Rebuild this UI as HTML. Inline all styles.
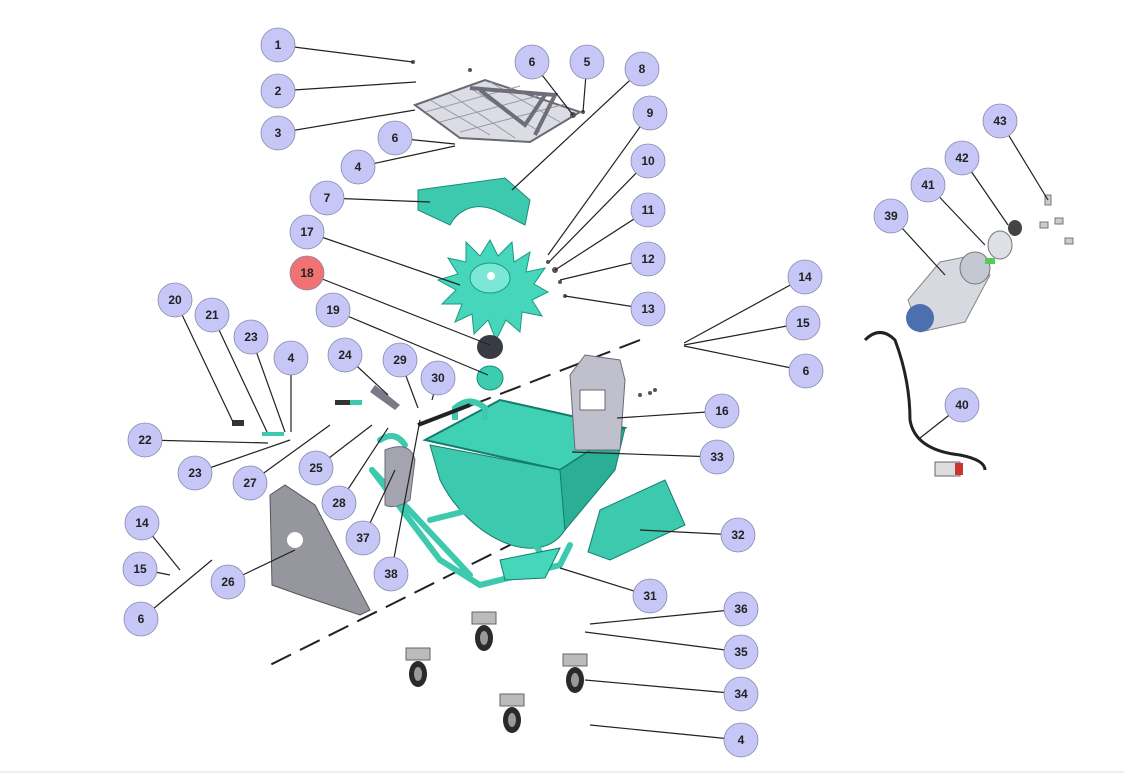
<!DOCTYPE html>
<html><head><meta charset="utf-8"><style>
html,body{margin:0;padding:0;background:#fff;}
svg{display:block}
text{font-family:"Liberation Sans",sans-serif;font-weight:bold;font-size:12px;fill:#222;text-anchor:middle;dominant-baseline:central}
</style></head><body>
<svg width="1124" height="780" viewBox="0 0 1124 780" xmlns="http://www.w3.org/2000/svg">
<rect width="1124" height="780" fill="#fff"/>
<line x1="0" y1="772" x2="1124" y2="772" stroke="#ddd" stroke-width="1"/>
<g stroke="#222" stroke-width="2" stroke-dasharray="22,10">
<line x1="640" y1="340" x2="420" y2="425"/>
<line x1="520" y1="540" x2="270" y2="665"/>
</g>
<!-- grate 3 -->
<polygon points="415,105 485,80 580,112 530,142 460,138" fill="#dcdce4" stroke="#6a6a76" stroke-width="2"/>
<g stroke="#9a9aa6" stroke-width="1">
<line x1="430" y1="100" x2="490" y2="135"/><line x1="450" y1="94" x2="515" y2="138"/><line x1="470" y1="88" x2="540" y2="132"/><line x1="490" y1="82" x2="560" y2="122"/>
<line x1="425" y1="112" x2="520" y2="86"/><line x1="440" y1="122" x2="545" y2="94"/><line x1="460" y1="132" x2="565" y2="104"/>
</g>
<path d="M470,88 L555,95 L535,135 M480,90 L525,125 L545,95" fill="none" stroke="#6e6e7a" stroke-width="4"/>
<!-- plate 7 -->
<path d="M418,190 L505,178 L530,200 L525,225 L495,210 C470,200 455,215 450,225 L418,210 Z" fill="#3cc9ae" stroke="#1a8d78"/>
<!-- gear 17 -->
<polygon fill="#45d6bc" stroke="#1a9a82" points="490,240 498,256 512,242 514,262 530,252 526,272 545,268 534,284 548,292 532,300 542,316 522,312 520,332 506,320 496,340 488,320 474,334 472,314 455,322 462,304 442,304 456,290 438,280 458,274 448,258 466,262 466,242 480,256"/>
<ellipse cx="490" cy="278" rx="20" ry="15" fill="#7ae8d4" stroke="#1a9a82"/>
<circle cx="491" cy="276" r="4" fill="#fff"/>
<ellipse cx="490" cy="347" rx="13" ry="12" fill="#3a3a44"/>
<ellipse cx="490" cy="378" rx="13" ry="12" fill="#3ccdb0" stroke="#17907a"/>
<!-- hopper 33 -->
<path d="M425,440 L500,400 L625,428 L560,470 Z" fill="#40d0b4" stroke="#157e6b" stroke-width="2"/>
<path d="M430,445 L560,470 L565,530 C540,570 470,540 440,480 Z" fill="#3cc9ae" stroke="#157e6b"/>
<path d="M560,470 L625,428 L615,470 L565,530 Z" fill="#2aae94" stroke="#157e6b"/>
<path d="M455,420 L455,408 Q470,395 485,408 L485,420" fill="none" stroke="#3cc9ae" stroke-width="6"/>
<g stroke="#3cc9ae" stroke-width="6" fill="none" stroke-linecap="round">
<path d="M372,470 L440,560 L480,585 L560,565 L570,545"/>
<path d="M372,470 L470,575"/>
<path d="M430,520 L510,500"/>
<path d="M500,490 L545,560"/>
<path d="M380,440 Q395,430 405,445"/>
</g>
<polygon points="500,560 560,548 545,578 505,580" fill="#45d6bc" stroke="#157e6b"/>
<line x1="418" y1="425" x2="470" y2="405" stroke="#222" stroke-width="4"/>
<!-- gray plate 16 -->
<path d="M570,375 L585,355 L620,360 L625,380 L620,450 L575,450 Z" fill="#c0c0cc" stroke="#6a6a76"/>
<rect x="580" y="390" width="25" height="20" fill="#fff" stroke="#6a6a76"/>
<polygon points="600,510 665,480 685,525 610,560 588,552" fill="#3cc9ae" stroke="#157e6b"/>
<path d="M385,450 Q410,440 415,460 L410,500 Q395,510 385,505 Z" fill="#a4a4b0" stroke="#6a6a76"/>
<path d="M270,495 L285,485 L315,505 L370,610 L360,615 L300,595 L272,585 Z" fill="#96969f" stroke="#555"/>
<circle cx="295" cy="540" r="8" fill="#fff"/>
<g fill="#555">
<rect x="335" y="400" width="22" height="5" fill="#333"/><rect x="350" y="400" width="12" height="5" fill="#3cc9ae"/>
<rect x="262" y="432" width="22" height="4" fill="#3cc9ae"/>
<rect x="232" y="420" width="12" height="6" fill="#333"/>
<path d="M375,385 L400,405 L395,410 L370,392 Z" fill="#7a7a86"/>
<circle cx="548" cy="262" r="2"/><circle cx="555" cy="270" r="3"/><circle cx="560" cy="282" r="2"/><circle cx="565" cy="296" r="2"/>
<circle cx="573" cy="115" r="3"/><circle cx="583" cy="112" r="2"/><circle cx="413" cy="62" r="2"/><circle cx="470" cy="70" r="2"/>
<circle cx="640" cy="395" r="2"/><circle cx="650" cy="393" r="2"/><circle cx="655" cy="390" r="2"/>
</g>
<g>
<g transform="translate(418,662)"><rect x="-12" y="-14" width="24" height="12" fill="#bbb" stroke="#666"/><ellipse cx="0" cy="12" rx="9" ry="13" fill="#2a2a2a"/><ellipse cx="0" cy="12" rx="4" ry="7" fill="#999"/></g>
<g transform="translate(484,626)"><rect x="-12" y="-14" width="24" height="12" fill="#bbb" stroke="#666"/><ellipse cx="0" cy="12" rx="9" ry="13" fill="#2a2a2a"/><ellipse cx="0" cy="12" rx="4" ry="7" fill="#999"/></g>
<g transform="translate(575,668)"><rect x="-12" y="-14" width="24" height="12" fill="#bbb" stroke="#666"/><ellipse cx="0" cy="12" rx="9" ry="13" fill="#2a2a2a"/><ellipse cx="0" cy="12" rx="4" ry="7" fill="#999"/></g>
<g transform="translate(512,708)"><rect x="-12" y="-14" width="24" height="12" fill="#bbb" stroke="#666"/><ellipse cx="0" cy="12" rx="9" ry="13" fill="#2a2a2a"/><ellipse cx="0" cy="12" rx="4" ry="7" fill="#999"/></g>
</g>
<!-- motor -->
<g>
<path d="M865,340 Q880,325 895,340 Q910,380 910,420 Q915,450 960,455 Q985,460 985,470" fill="none" stroke="#222" stroke-width="3"/>
<rect x="935" y="462" width="25" height="14" fill="#ddd" stroke="#666"/><rect x="955" y="463" width="8" height="12" fill="#c33"/>
<polygon points="908,300 940,262 975,255 990,275 965,322 920,332" fill="#d6d9e0" stroke="#888"/>
<ellipse cx="920" cy="318" rx="14" ry="14" fill="#4c6fb0"/>
<ellipse cx="975" cy="268" rx="15" ry="16" fill="#c4c8d2" stroke="#777"/>
<rect x="985" y="258" width="10" height="6" fill="#5c5"/>
<ellipse cx="1000" cy="245" rx="12" ry="14" fill="#dde0e6" stroke="#777"/>
<ellipse cx="1015" cy="228" rx="7" ry="8" fill="#444"/>
<g fill="#ccc" stroke="#777"><rect x="1045" y="195" width="6" height="10"/><rect x="1040" y="222" width="8" height="6"/><rect x="1055" y="218" width="8" height="6"/><rect x="1065" y="238" width="8" height="6"/></g>
</g>
<g stroke="#222" stroke-width="1.2" fill="none">
<line x1="278" y1="45" x2="413" y2="62"/><line x1="278" y1="91" x2="416" y2="82"/><line x1="278" y1="133" x2="415" y2="110"/>
<line x1="532" y1="62" x2="573" y2="115"/><line x1="587" y1="62" x2="583" y2="112"/><line x1="642" y1="69" x2="512" y2="190"/>
<line x1="395" y1="138" x2="455" y2="144"/><line x1="358" y1="167" x2="455" y2="146"/>
<line x1="650" y1="113" x2="548" y2="255"/><line x1="648" y1="161" x2="549" y2="262"/><line x1="648" y1="210" x2="555" y2="270"/>
<line x1="648" y1="259" x2="560" y2="280"/><line x1="648" y1="309" x2="565" y2="296"/>
<line x1="327" y1="198" x2="430" y2="202"/><line x1="307" y1="232" x2="460" y2="285"/><line x1="307" y1="273" x2="490" y2="345"/>
<line x1="333" y1="310" x2="488" y2="375"/><line x1="175" y1="300" x2="233" y2="422"/><line x1="212" y1="315" x2="267" y2="432"/>
<line x1="251" y1="337" x2="285" y2="432"/><line x1="291" y1="358" x2="291" y2="432"/><line x1="345" y1="355" x2="388" y2="395"/>
<line x1="400" y1="360" x2="418" y2="408"/><line x1="438" y1="378" x2="432" y2="400"/><line x1="145" y1="440" x2="268" y2="443"/>
<line x1="195" y1="473" x2="290" y2="440"/><line x1="250" y1="483" x2="330" y2="425"/><line x1="316" y1="468" x2="372" y2="425"/>
<line x1="339" y1="503" x2="388" y2="428"/><line x1="363" y1="538" x2="395" y2="470"/><line x1="391" y1="574" x2="420" y2="420"/>
<line x1="805" y1="277" x2="684" y2="343"/><line x1="803" y1="323" x2="684" y2="345"/><line x1="806" y1="371" x2="684" y2="346"/>
<line x1="722" y1="411" x2="617" y2="418"/><line x1="717" y1="457" x2="572" y2="452"/><line x1="738" y1="535" x2="640" y2="530"/>
<line x1="650" y1="596" x2="560" y2="568"/><line x1="741" y1="609" x2="590" y2="624"/><line x1="741" y1="652" x2="585" y2="632"/>
<line x1="741" y1="694" x2="585" y2="680"/><line x1="741" y1="740" x2="590" y2="725"/>
<line x1="142" y1="523" x2="180" y2="570"/><line x1="140" y1="569" x2="170" y2="575"/><line x1="141" y1="619" x2="212" y2="560"/>
<line x1="228" y1="582" x2="295" y2="550"/><line x1="1000" y1="121" x2="1048" y2="200"/><line x1="962" y1="158" x2="1008" y2="225"/>
<line x1="928" y1="185" x2="985" y2="245"/><line x1="891" y1="216" x2="945" y2="275"/><line x1="962" y1="405" x2="920" y2="438"/>
</g>
<g fill="#c6c6f7" stroke="#8888aa" stroke-width="0.8">
<circle cx="278" cy="45" r="17"/><circle cx="278" cy="91" r="17"/><circle cx="278" cy="133" r="17"/>
<circle cx="532" cy="62" r="17"/><circle cx="587" cy="62" r="17"/><circle cx="642" cy="69" r="17"/>
<circle cx="395" cy="138" r="17"/><circle cx="358" cy="167" r="17"/>
<circle cx="650" cy="113" r="17"/><circle cx="648" cy="161" r="17"/><circle cx="648" cy="210" r="17"/><circle cx="648" cy="259" r="17"/><circle cx="648" cy="309" r="17"/>
<circle cx="327" cy="198" r="17"/><circle cx="307" cy="232" r="17"/><circle cx="307" cy="273" r="17" fill="#f07272"/>
<circle cx="333" cy="310" r="17"/><circle cx="175" cy="300" r="17"/><circle cx="212" cy="315" r="17"/><circle cx="251" cy="337" r="17"/>
<circle cx="291" cy="358" r="17"/><circle cx="345" cy="355" r="17"/><circle cx="400" cy="360" r="17"/><circle cx="438" cy="378" r="17"/>
<circle cx="145" cy="440" r="17"/><circle cx="195" cy="473" r="17"/><circle cx="250" cy="483" r="17"/><circle cx="316" cy="468" r="17"/>
<circle cx="339" cy="503" r="17"/><circle cx="363" cy="538" r="17"/><circle cx="391" cy="574" r="17"/>
<circle cx="805" cy="277" r="17"/><circle cx="803" cy="323" r="17"/><circle cx="806" cy="371" r="17"/>
<circle cx="722" cy="411" r="17"/><circle cx="717" cy="457" r="17"/><circle cx="738" cy="535" r="17"/><circle cx="650" cy="596" r="17"/>
<circle cx="741" cy="609" r="17"/><circle cx="741" cy="652" r="17"/><circle cx="741" cy="694" r="17"/><circle cx="741" cy="740" r="17"/>
<circle cx="142" cy="523" r="17"/><circle cx="140" cy="569" r="17"/><circle cx="141" cy="619" r="17"/><circle cx="228" cy="582" r="17"/>
<circle cx="1000" cy="121" r="17"/><circle cx="962" cy="158" r="17"/><circle cx="928" cy="185" r="17"/><circle cx="891" cy="216" r="17"/><circle cx="962" cy="405" r="17"/>
</g>
<g>
<text x="278" y="45">1</text><text x="278" y="91">2</text><text x="278" y="133">3</text>
<text x="532" y="62">6</text><text x="587" y="62">5</text><text x="642" y="69">8</text>
<text x="395" y="138">6</text><text x="358" y="167">4</text>
<text x="650" y="113">9</text><text x="648" y="161">10</text><text x="648" y="210">11</text><text x="648" y="259">12</text><text x="648" y="309">13</text>
<text x="327" y="198">7</text><text x="307" y="232">17</text><text x="307" y="273">18</text>
<text x="333" y="310">19</text><text x="175" y="300">20</text><text x="212" y="315">21</text><text x="251" y="337">23</text>
<text x="291" y="358">4</text><text x="345" y="355">24</text><text x="400" y="360">29</text><text x="438" y="378">30</text>
<text x="145" y="440">22</text><text x="195" y="473">23</text><text x="250" y="483">27</text><text x="316" y="468">25</text>
<text x="339" y="503">28</text><text x="363" y="538">37</text><text x="391" y="574">38</text>
<text x="805" y="277">14</text><text x="803" y="323">15</text><text x="806" y="371">6</text>
<text x="722" y="411">16</text><text x="717" y="457">33</text><text x="738" y="535">32</text><text x="650" y="596">31</text>
<text x="741" y="609">36</text><text x="741" y="652">35</text><text x="741" y="694">34</text><text x="741" y="740">4</text>
<text x="142" y="523">14</text><text x="140" y="569">15</text><text x="141" y="619">6</text><text x="228" y="582">26</text>
<text x="1000" y="121">43</text><text x="962" y="158">42</text><text x="928" y="185">41</text><text x="891" y="216">39</text><text x="962" y="405">40</text>
</g>
</svg>
</body></html>
